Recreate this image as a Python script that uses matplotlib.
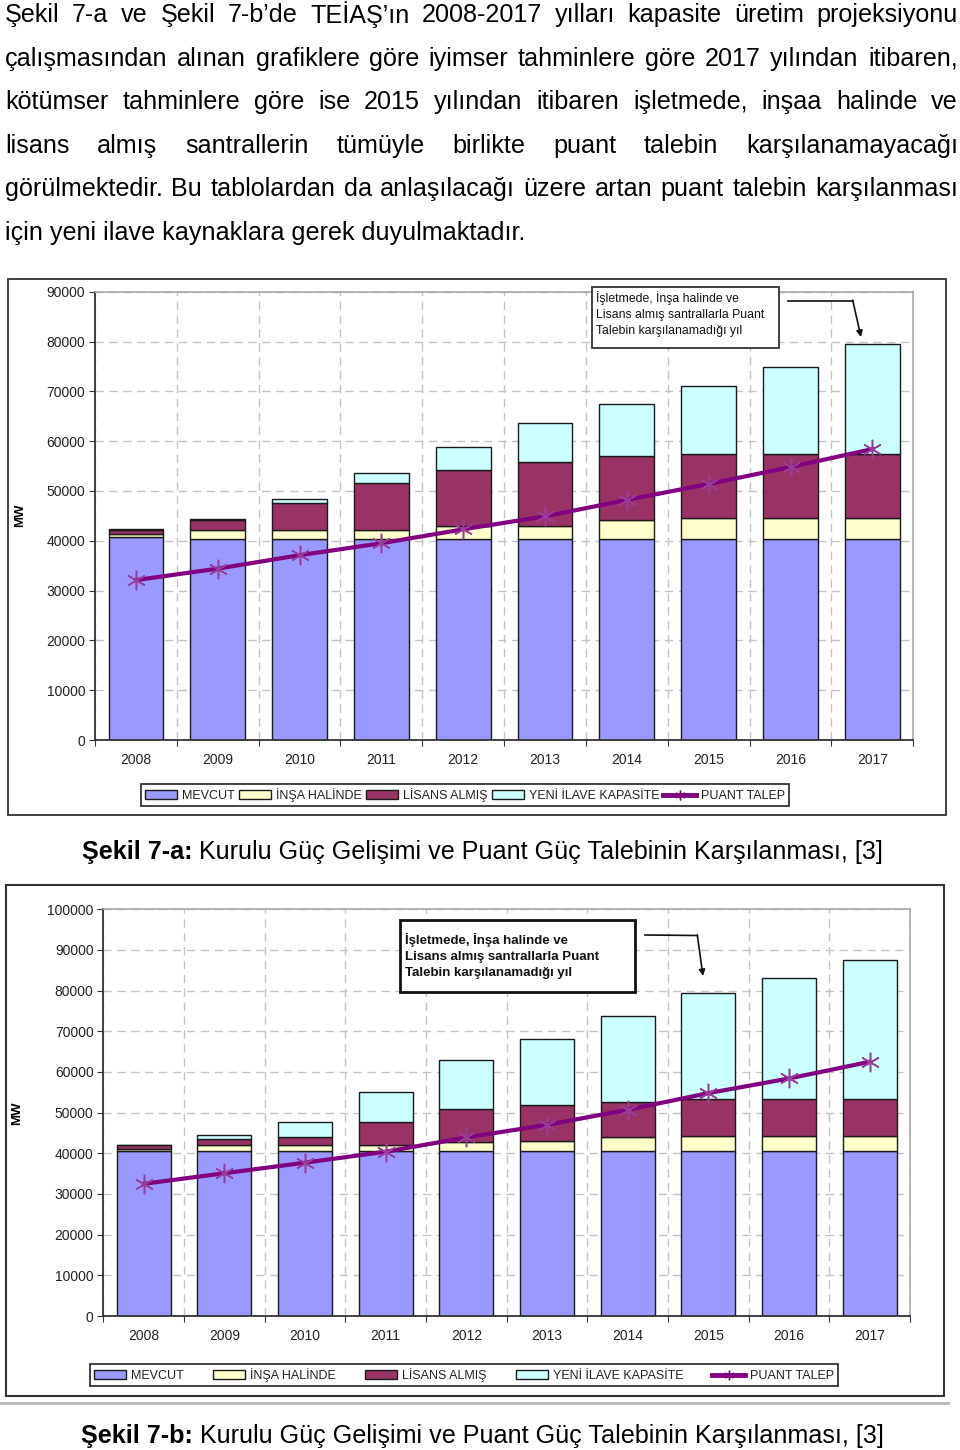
import numpy as np
import matplotlib
matplotlib.use("Agg")
import matplotlib.pyplot as plt
from matplotlib.patches import Rectangle, Patch
from matplotlib.lines import Line2D

plt.rcParams['font.family'] = ['Liberation Sans', 'DejaVu Sans']

years = ['2008', '2009', '2010', '2011', '2012', '2013', '2014', '2015', '2016', '2017']
series_names = ['MEVCUT', 'İNŞA HALİNDE', 'LİSANS ALMIŞ', 'YENİ İLAVE KAPASİTE']
line_name = 'PUANT TALEP'

# Şekil 7-a (MW)
mevcut_a = [40800, 40300, 40300, 40300, 40300, 40300, 40300, 40300, 40300, 40300]
insa_a = [600, 1800, 1800, 1800, 2600, 2700, 3900, 4300, 4300, 4300]
lisans_a = [700, 2000, 5500, 9500, 11400, 12800, 12800, 12800, 12800, 12800]
yeni_a = [300, 300, 700, 2000, 4500, 7900, 10400, 13700, 17400, 22100]
puant_a = [32100, 34400, 37100, 39500, 42300, 44900, 48200, 51400, 54800, 58400]

# Şekil 7-b (MW)
mevcut_b = [40600, 40600, 40600, 40600, 40600, 40600, 40600, 40600, 40600, 40600]
insa_b = [500, 1400, 1400, 1400, 2300, 2400, 3500, 3700, 3700, 3700]
lisans_b = [900, 1600, 1900, 5800, 8000, 8900, 8600, 9000, 9000, 9000]
yeni_b = [0, 800, 3900, 7400, 12000, 16100, 21100, 26000, 29800, 34200]
puant_b = [32500, 35100, 37700, 40400, 43900, 47000, 50700, 54800, 58400, 62500]

paragraph = [
    "Şekil 7-a ve Şekil 7-b’de TEİAŞ’ın 2008-2017 yılları kapasite üretim projeksiyonu",
    "çalışmasından alınan grafiklere göre iyimser tahminlere göre 2017 yılından itibaren,",
    "kötümser tahminlere göre ise 2015 yılından itibaren işletmede, inşaa halinde ve",
    "lisans almış santrallerin tümüyle birlikte puant talebin karşılanamayacağı",
    "görülmektedir. Bu tablolardan da anlaşılacağı üzere artan puant talebin karşılanması",
    "için yeni ilave kaynaklara gerek duyulmaktadır.",
]
caption_rest = " Kurulu Güç Gelişimi ve Puant Güç Talebinin Karşılanması, [3]"
note_a = "İşletmede, İnşa halinde ve\nLisans almış santrallarla Puant\nTalebin karşılanamadığı yıl"
note_b = "İşletmede, İnşa halinde ve\nLisans almış santrallarla Puant\nTalebin karşılanamadığı yıl"

colors = ['#9999FF', '#FFFFCC', '#993366', '#CCFFFF']
line_color = '#800080'
asterisk = (6, 2, 0)

W, H = 960, 1450
fig = plt.figure(figsize=(W / 100, H / 100), dpi=100)


def box(x0, y0, x1, y1):
    return [x0 / W, 1 - y1 / H, (x1 - x0) / W, (y1 - y0) / H]


def draw_chart(ax, stacks, puant, ymax):
    x = np.arange(len(years))
    bottom = np.zeros(len(years))
    for vals, c in zip(stacks, colors):
        ax.bar(x, vals, width=0.67, bottom=bottom, color=c,
               edgecolor='#1a1a1a', linewidth=1.0, zorder=2)
        bottom += np.array(vals)
    ax.plot(x, puant, color=line_color, lw=3, marker=asterisk, ms=14,
            mew=1.1, mec='#9a3c9a', zorder=3)
    ax.set_xlim(-0.5, len(years) - 0.5)
    ax.set_ylim(0, ymax)
    ax.set_yticks(np.arange(0, ymax + 1, 10000))
    ax.set_xticks(np.arange(-0.5, len(years), 1))
    ax.set_xticklabels([])
    ax.set_xticks(x, minor=True)
    ax.set_xticklabels(years, minor=True)
    ax.tick_params(axis='x', which='minor', length=0, pad=9, labelsize=10, labelcolor='#222222')
    ax.tick_params(axis='x', which='major', length=4, direction='out', color='#333333')
    ax.tick_params(axis='y', length=4, direction='out', pad=3, labelsize=10,
                   color='#333333', labelcolor='#222222')
    ax.grid(True, which='major', ls=(0, (6, 4)), color='#c4c4c4', lw=1)
    ax.set_axisbelow(True)
    for s in ['left', 'bottom']:
        ax.spines[s].set_color('#333333')
        ax.spines[s].set_linewidth(1.3)
    for s in ['top', 'right']:
        ax.spines[s].set_color('#a8a8a8')
        ax.spines[s].set_linewidth(1.2)


def add_legend(cx, cy, colspace):
    handles = [Patch(facecolor=c, edgecolor='#1a1a1a', linewidth=1.0) for c in colors]
    handles.append(Line2D([], [], color=line_color, lw=3.5, marker=asterisk, ms=7, mew=1))
    leg = fig.legend(handles, series_names + [line_name], loc='center',
                     bbox_to_anchor=(cx / W, 1 - cy / H), ncol=5, frameon=True,
                     fancybox=False, edgecolor='#222222', framealpha=1,
                     fontsize=9, handlelength=2.6, handleheight=0.7,
                     handletextpad=0.4, columnspacing=colspace, borderpad=0.35,
                     borderaxespad=0)
    leg.get_frame().set_linewidth(1.2)
    for t in leg.get_texts():
        t.set_color('#222222')


ax_a = fig.add_axes(box(95, 291.7, 913.3, 740))
draw_chart(ax_a, [mevcut_a, insa_a, lisans_a, yeni_a], puant_a, 90000)
add_legend(465, 795, 0.3)

ax_b = fig.add_axes(box(103.3, 909.3, 910, 1316))
draw_chart(ax_b, [mevcut_b, insa_b, lisans_b, yeni_b], puant_b, 100000)
add_legend(464, 1375, 2.3)

# overlay in pixel coordinates for text, frames and notes
ov = fig.add_axes([0, 0, 1, 1], zorder=10)
ov.set_xlim(0, W)
ov.set_ylim(H, 0)
ov.axis('off')

ov.add_patch(Rectangle((8.3, 279.3), 946 - 8.3, 815 - 279.3, fill=False, ec='#333333', lw=1.3))
ov.add_patch(Rectangle((5.5, 884.5), 943.5 - 5.5, 1395.5 - 884.5, fill=False, ec='#333333', lw=1.5))
ov.plot([0, 948], [1403, 1403], color='#b8b8b8', lw=2)

ov.text(20, 515, 'MW', rotation=90, ha='center', va='center', fontsize=9.5, fontweight='bold')
ov.text(17, 1113, 'MW', rotation=90, ha='center', va='center', fontsize=9.5, fontweight='bold')

# notes
ov.add_patch(Rectangle((591.7, 286.7), 779.3 - 591.7, 348.3 - 286.7, fc='white', ec='#333333', lw=1.3))
ov.text(596, 314, note_a, ha='left', va='center', fontsize=8.8, linespacing=1.4, color='#111111')
ov.plot([788, 852.7], [300.7, 300.7], color='#111111', lw=1.2)
ov.annotate('', xy=(861, 337), xytext=(852.7, 300.2),
            arrowprops=dict(arrowstyle='-|>', color='#111111', lw=1.2, mutation_scale=9,
                            shrinkA=0, shrinkB=0))

ov.add_patch(Rectangle((400, 920), 635 - 400, 991.7 - 920, fc='white', ec='#111111', lw=2))
ov.text(405, 956, note_b, ha='left', va='center', fontsize=9.5, fontweight='bold',
        linespacing=1.45, color='#111111')
ov.plot([645, 697.3], [935, 935.5], color='#111111', lw=1.2)
ov.annotate('', xy=(703, 976), xytext=(697.3, 935),
            arrowprops=dict(arrowstyle='-|>', color='#111111', lw=1.2, mutation_scale=9,
                            shrinkA=0, shrinkB=0))

# paragraph with justified lines
renderer = fig.canvas.get_renderer()
pfont = dict(fontsize=18.1, color='#000000', va='center', ha='left')
x_left, x_right = 5, 958
for i, line in enumerate(paragraph):
    y = 15 + i * 43.6
    if i == len(paragraph) - 1:
        ov.text(x_left, y, line, **pfont)
        continue
    words = line.split(' ')
    texts = [ov.text(0, y, w, **pfont) for w in words]
    widths = [t.get_window_extent(renderer).width for t in texts]
    gap = (x_right - x_left - sum(widths)) / (len(words) - 1)
    xpos = x_left
    for t, w in zip(texts, widths):
        t.set_x(xpos)
        xpos += w + gap


def caption(label, y):
    t1 = ov.text(0, y, label, fontsize=18.1, fontweight='bold', va='center', ha='left')
    t2 = ov.text(0, y, caption_rest, fontsize=18.1, va='center', ha='left')
    w1 = t1.get_window_extent(renderer).width
    w2 = t2.get_window_extent(renderer).width
    x0 = 482.5 - (w1 + w2) / 2
    t1.set_x(x0)
    t2.set_x(x0 + w1)


caption('Şekil 7-a:', 852)
caption('Şekil 7-b:', 1436)

fig.savefig('out.png', dpi=100)
